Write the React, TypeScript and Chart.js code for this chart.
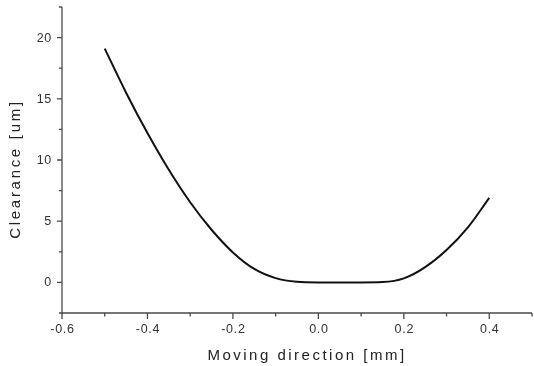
import React, { useEffect, useRef } from 'react';
import { Chart, registerables } from 'chart.js';

Chart.register(...registerables);

// Data
const X_VALUES = [-0.5, -0.45, -0.4, -0.35, -0.3, -0.25, -0.2, -0.15, -0.1, -0.05, 0, 0.05, 0.1, 0.15, 0.2, 0.25, 0.3, 0.35, 0.4];
const CLEARANCE = [19.1, 15.5, 12.2, 9.2, 6.55, 4.3, 2.45, 1.1, 0.35, 0.05, 0, 0, 0, 0.03, 0.33, 1.25, 2.65, 4.5, 6.9];

const X_MIN = -0.6;
const X_MAX = 0.5;
const Y_MIN = -2.5;
const Y_MAX = 22.5;

const X_MAJOR = [-0.6, -0.4, -0.2, 0, 0.2, 0.4];
const X_MINOR = [-0.5, -0.3, -0.1, 0.1, 0.3, 0.5];
const Y_MAJOR = [0, 5, 10, 15, 20];
const Y_MINOR = [-2.5, 2.5, 7.5, 12.5, 17.5, 22.5];

const X_TITLE = 'Moving direction [mm]';
const Y_TITLE = 'Clearance [um]';

const AXIS_COLOR = '#4a4a4a';
const LABEL_COLOR = '#333333';
const FONT = '"Liberation Sans", Arial, sans-serif';

const originAxes = {
  id: 'originAxes',
  afterDraw(chart: any) {
    const { ctx, chartArea, scales } = chart;
    const xs = scales.x;
    const ys = scales.y;
    const left = chartArea.left;
    const right = chartArea.right;
    const top = chartArea.top;
    const bottom = chartArea.bottom;
    ctx.save();
    ctx.strokeStyle = AXIS_COLOR;
    ctx.lineWidth = 1.3;
    ctx.beginPath();
    ctx.moveTo(left, top);
    ctx.lineTo(left, bottom);
    ctx.lineTo(right, bottom);
    ctx.stroke();

    ctx.beginPath();
    X_MAJOR.forEach((v) => {
      const p = xs.getPixelForValue(v);
      ctx.moveTo(p, bottom);
      ctx.lineTo(p, bottom + 6);
    });
    X_MINOR.forEach((v) => {
      const p = xs.getPixelForValue(v);
      ctx.moveTo(p, bottom);
      ctx.lineTo(p, bottom + 3.5);
    });
    Y_MAJOR.forEach((v) => {
      const p = ys.getPixelForValue(v);
      ctx.moveTo(left, p);
      ctx.lineTo(left - 5, p);
    });
    Y_MINOR.forEach((v) => {
      const p = ys.getPixelForValue(v);
      ctx.moveTo(left, p);
      ctx.lineTo(left - 3, p);
    });
    ctx.stroke();

    // tick labels
    ctx.fillStyle = LABEL_COLOR;
    ctx.font = `12.5px ${FONT}`;
    (ctx as any).letterSpacing = '0.7px';
    ctx.textAlign = 'center';
    ctx.textBaseline = 'middle';
    X_MAJOR.forEach((v) => {
      const p = xs.getPixelForValue(v);
      ctx.fillText(v.toFixed(1), p + 0.5, bottom + 17);
    });
    ctx.textAlign = 'right';
    Y_MAJOR.forEach((v) => {
      const p = ys.getPixelForValue(v);
      ctx.fillText(String(v), left - 10, p + 0.5);
    });

    // axis titles
    ctx.fillStyle = '#222222';
    ctx.font = `15px ${FONT}`;
    (ctx as any).letterSpacing = '2.5px';
    ctx.textAlign = 'center';
    ctx.textBaseline = 'alphabetic';
    ctx.fillText(X_TITLE, 307, 360);

    ctx.translate(20, 169);
    ctx.rotate(-Math.PI / 2);
    (ctx as any).letterSpacing = '2.7px';
    ctx.fillText(Y_TITLE, 0, 0);
    ctx.restore();
  },
};

export default function App() {
  const canvasRef = useRef<HTMLCanvasElement | null>(null);

  useEffect(() => {
    const canvas = canvasRef.current;
    if (!canvas) return;
    const points = X_VALUES.map((x, i) => ({ x, y: CLEARANCE[i] }));
    const chart = new Chart(canvas, {
      type: 'line',
      data: {
        datasets: [
          {
            data: points,
            borderColor: '#111111',
            borderWidth: 2,
            pointRadius: 0,
            cubicInterpolationMode: 'monotone',
            fill: false,
          },
        ],
      },
      options: {
        animation: false,
        responsive: true,
        maintainAspectRatio: false,
        layout: { padding: { top: 7, right: 2, left: 0, bottom: 0 } },
        plugins: {
          legend: { display: false },
          tooltip: { enabled: false },
        },
        scales: {
          x: {
            type: 'linear',
            min: X_MIN,
            max: X_MAX,
            bounds: 'data',
            grid: { display: false },
            border: { display: false },
            ticks: { display: false },
            afterFit: (s: any) => {
              s.height = 53;
            },
          },
          y: {
            type: 'linear',
            min: Y_MIN,
            max: Y_MAX,
            bounds: 'data',
            grid: { display: false },
            border: { display: false },
            ticks: { display: false },
            afterFit: (s: any) => {
              s.width = 62;
            },
          },
        },
      },
      plugins: [originAxes],
    } as any);
    return () => chart.destroy();
  }, []);

  return (
    <div style={{ position: 'absolute', left: 0, top: 0, width: 534, height: 366, background: '#fff' }}>
      <canvas ref={canvasRef} />
    </div>
  );
}
